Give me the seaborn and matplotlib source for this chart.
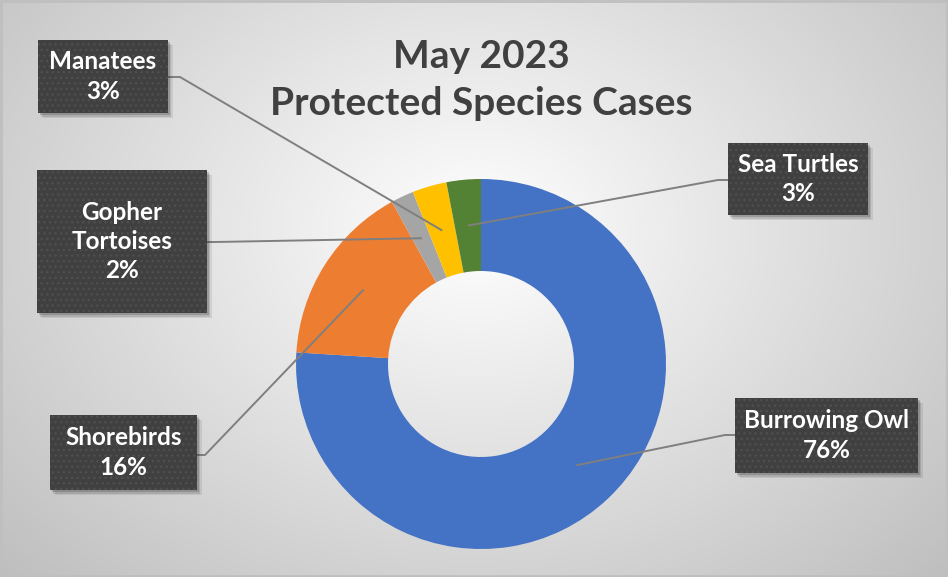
import numpy as np
import matplotlib
matplotlib.use("Agg")
import matplotlib.pyplot as plt
import seaborn as sns
from matplotlib.patches import Rectangle

# data
species = ["Burrowing Owl", "Shorebirds", "Gopher\nTortoises", "Manatees", "Sea Turtles"]
shares = [76, 16, 2, 3, 3]
colors = ["#4472C4", "#ED7D31", "#A5A5A5", "#FFC000", "#548235"]
title_text = "May 2023\nProtected Species Cases"

# label boxes (pixel coords, top-left origin): x0, y0, x1, y1
label_boxes = [
    (735, 398, 918, 473),
    (50, 415, 197, 490),
    (37, 170, 207, 313),
    (38, 40, 168, 113),
    (728, 143, 868, 215),
]
# where each leader line turns horizontal before hitting its box
elbows = [(725, 435), (205, 455), (215, 242), (180, 77), (718, 180)]
box_edges = [(735, 435), (197, 455), (207, 242), (168, 77), (728, 180)]

sns.set_theme(style="white")
plt.rcParams["font.family"] = ["Lato", "DejaVu Sans"]

W, H = 948, 577
fig = plt.figure(figsize=(W / 100, H / 100), dpi=100)
ax = fig.add_axes([0, 0, 1, 1])

# radial gradient background
yy, xx = np.mgrid[0:H, 0:W]
d = np.hypot((xx - 474) / (W * 0.6), (yy - 230) / (H * 0.75))
shade = 1 - 0.22 * np.clip(d, 0, 1.2)
bg = np.dstack([shade, shade, shade])
ax.imshow(bg, extent=[0, W, 0, H], origin="upper", zorder=0, aspect="auto")

# donut
cx, cy, R = 481, H - 364, 185
ring = 92
ax.pie(shares, colors=colors, startangle=90, counterclock=False,
       radius=R, center=(cx, cy),
       wedgeprops=dict(width=ring, edgecolor="none"))

# leader lines + label boxes
cum = np.cumsum([0] + shares[:-1])
for i, name in enumerate(species):
    mid = cum[i] + shares[i] / 2
    ang = np.deg2rad(90 - 360 * mid / sum(shares))
    r = R - ring / 2
    ax_, ay_ = cx + r * np.cos(ang), cy + r * np.sin(ang)
    ex, ey = elbows[i]
    bx, by = box_edges[i]
    ax.plot([ax_, ex, bx], [ay_, H - ey, H - by], color="#7f7f7f", lw=1.4,
            zorder=3, solid_capstyle="butt")

    x0, y0, x1, y1 = label_boxes[i]
    w, h = x1 - x0, y1 - y0
    # soft shadow
    for k, a in zip([6, 4.5, 3], [0.10, 0.15, 0.22]):
        ax.add_patch(Rectangle((x0 + k - 1, H - y1 - k + 1), w, h,
                               facecolor="#303030", edgecolor="none",
                               alpha=a, zorder=4))
    ax.add_patch(Rectangle((x0, H - y1), w, h, facecolor="#404040",
                           edgecolor="none", zorder=5))
    ax.add_patch(Rectangle((x0, H - y1), w, h, facecolor="none",
                           edgecolor="#4f4f4f", hatch="...", lw=0, zorder=6))
    ax.text((x0 + x1) / 2, H - (y0 + y1) / 2, f"{name}\n{shares[i]}%",
            ha="center", va="center", color="white", fontsize=17.5,
            fontweight="bold", linespacing=1.33, zorder=7)

ax.text(481, H - 80, title_text, ha="center", va="center", fontsize=28,
        fontweight="bold", color="#404040", linespacing=1.42, zorder=7)

ax.add_patch(Rectangle((1, 1), W - 2, H - 2, facecolor="none",
                       edgecolor="#bfbfbf", lw=2, zorder=8))

ax.set_xlim(0, W)
ax.set_ylim(0, H)
ax.set_aspect("auto")
ax.axis("off")

fig.savefig("out.png", dpi=100)
